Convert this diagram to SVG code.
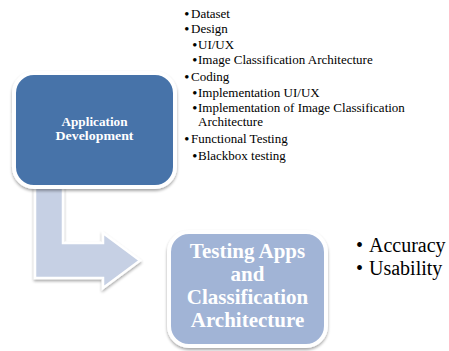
<svg xmlns="http://www.w3.org/2000/svg" width="449" height="351" viewBox="0 0 449 351">
<defs>
<filter id="sh" x="-10%" y="-10%" width="120%" height="125%">
<feGaussianBlur in="SourceAlpha" stdDeviation="1.5"/>
<feOffset dx="0" dy="1.5" result="b"/>
<feComponentTransfer><feFuncA type="linear" slope="0.35"/></feComponentTransfer>
<feMerge><feMergeNode/><feMergeNode in="SourceGraphic"/></feMerge>
</filter>
<style>
.box{stroke:#ffffff;stroke-width:4}
.t{font-family:"Liberation Serif","DejaVu Serif",serif;fill:#000}
.b{font-family:"Liberation Serif","DejaVu Serif",serif;fill:#000;font-weight:bold}
.w{font-family:"Liberation Serif","DejaVu Serif",serif;fill:#fff;font-weight:bold;text-anchor:middle}
</style>
</defs>
<rect width="449" height="351" fill="#fff"/>
<g id="connectors">
<path d="M35 186 L63 186 L63 243 L103 243 L103 233 L140 260.5 L103 288 L103 278 L35 278 Z" fill="#c6d0e4" stroke="#fff" stroke-width="2.5" stroke-linejoin="miter" filter="url(#sh)"/>
</g>
<g id="app-dev">
<rect x="14" y="73" width="161" height="114" rx="20" fill="#4673a9" class="box" filter="url(#sh)"/>
<text class="w" x="94.5" y="126" font-size="12.5" textLength="66" lengthAdjust="spacingAndGlyphs">Application</text>
<text class="w" x="94.5" y="140" font-size="12.5" textLength="78" lengthAdjust="spacingAndGlyphs">Development</text>
</g>
<g id="dev-list" font-size="13">
<text class="b" x="184.5" y="17.5">•</text><text class="t" x="191" y="17.5">Dataset</text>
<text class="b" x="184.5" y="33">•</text><text class="t" x="191" y="33">Design</text>
<text class="b" x="192.5" y="48.5">•</text><text class="t" x="198" y="48.5">UI/UX</text>
<text class="b" x="192.5" y="64">•</text><text class="t" x="198" y="64">Image Classification Architecture</text>
<text class="b" x="184.5" y="80.5">•</text><text class="t" x="191" y="80.5">Coding</text>
<text class="b" x="192.5" y="96.5">•</text><text class="t" x="198" y="96.5">Implementation UI/UX</text>
<text class="b" x="192.5" y="112">•</text><text class="t" x="198" y="112">Implementation of Image Classification</text>
<text class="t" x="198" y="126">Architecture</text>
<text class="b" x="184.5" y="143">•</text><text class="t" x="191" y="143">Functional Testing</text>
<text class="b" x="192.5" y="159.5">•</text><text class="t" x="198" y="159.5">Blackbox testing</text>
</g>
<g id="testing">
<rect x="169" y="232" width="157" height="114" rx="20" fill="#a1b4d6" class="box" filter="url(#sh)"/>
<text class="w" x="247.5" y="258" font-size="21">Testing Apps</text>
<text class="w" x="247.5" y="281" font-size="21">and</text>
<text class="w" x="247.5" y="304" font-size="21">Classification</text>
<text class="w" x="247.5" y="327" font-size="21">Architecture</text>
</g>
<g id="test-list" font-size="20">
<text class="t" x="356" y="252">•<tspan x="369">Accuracy</tspan></text>
<text class="t" x="356" y="275">•<tspan x="369">Usability</tspan></text>
</g>
</svg>
